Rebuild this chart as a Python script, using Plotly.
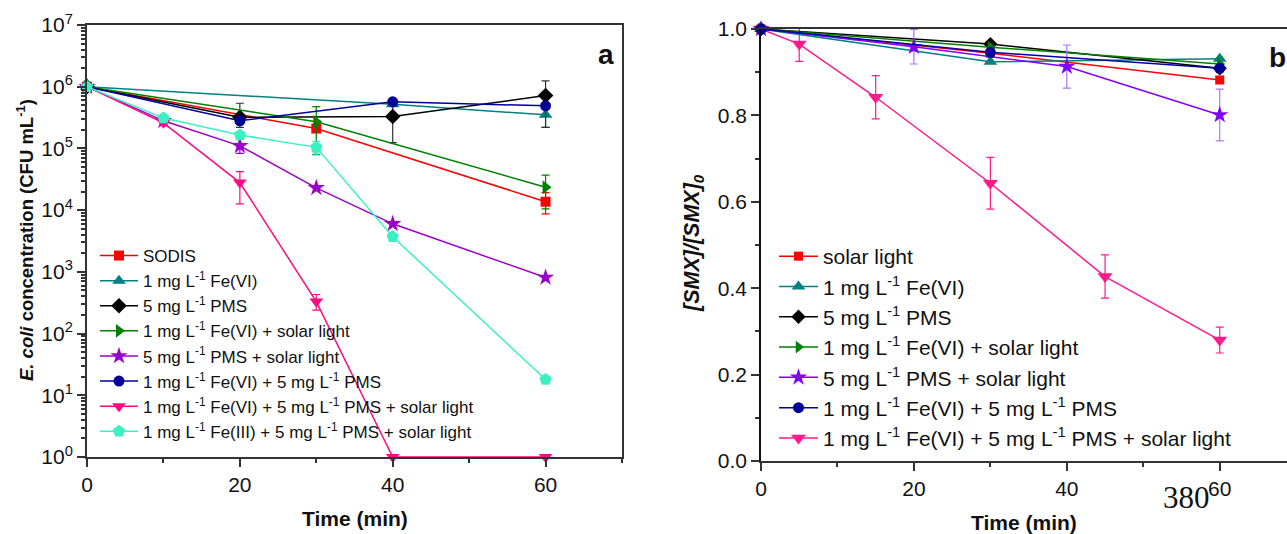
import plotly.graph_objects as go

W, H = 1287, 534

# ---------------- Panel a data (E. coli, CFU/mL) ----------------
a_names = ["SODIS",
           "1 mg L<sup>-1</sup> Fe(VI)",
           "5 mg L<sup>-1</sup> PMS",
           "1 mg L<sup>-1</sup> Fe(VI) + solar light",
           "5 mg L<sup>-1</sup> PMS + solar light",
           "1 mg L<sup>-1</sup> Fe(VI) + 5 mg L<sup>-1</sup> PMS",
           "1 mg L<sup>-1</sup> Fe(VI) + 5 mg L<sup>-1</sup> PMS + solar light",
           "1 mg L<sup>-1</sup> Fe(III) + 5 mg L<sup>-1</sup> PMS + solar light"]

a_sodis_t = [0, 30, 60]
a_sodis_y = [1.0e6, 2.1e5, 1.37e4]
a_sodis_ep = [None, None, 5.5e3]
a_sodis_em = [None, None, 5.0e3]

a_fe_t = [0, 40, 60]
a_fe_y = [1.0e6, 5.2e5, 3.5e5]
a_fe_ep = [None, None, 1.3e5]
a_fe_em = [None, None, 1.3e5]

a_pms_t = [0, 20, 40, 60]
a_pms_y = [1.0e6, 3.2e5, 3.3e5, 7.2e5]
a_pms_ep = [None, 2.2e5, 2.06e5, 5.2e5]
a_pms_em = [None, 1.0e5, 2.06e5, 5.0e5]

a_fesol_t = [0, 30, 60]
a_fesol_y = [1.0e6, 2.7e5, 2.35e4]
a_fesol_ep = [None, 2.05e5, 1.35e4]
a_fesol_em = [None, 1.9e5, 1.3e4]

a_pmssol_t = [0, 10, 20, 30, 40, 60]
a_pmssol_y = [1.0e6, 2.8e5, 1.1e5, 2.3e4, 6.0e3, 8.1e2]
a_pmssol_ep = [None, None, 3.0e4, None, None, None]
a_pmssol_em = [None, None, 2.7e4, None, None, None]

a_fepms_t = [0, 20, 40, 60]
a_fepms_y = [1.0e6, 2.8e5, 5.7e5, 4.9e5]

a_all_t = [0, 10, 20, 30, 40, 60]
a_all_y = [1.0e6, 2.6e5, 2.8e4, 3.3e2, 1.0, 1.0]
a_all_ep = [None, None, 1.4e4, 1.0e2, None, None]
a_all_em = [None, None, 1.54e4, 0.9e2, None, None]

a_fe3_t = [0, 10, 20, 30, 40, 60]
a_fe3_y = [1.0e6, 3.1e5, 1.65e5, 1.04e5, 3.7e3, 18]
a_fe3_ep = [None, None, None, 2.6e4, None, None]
a_fe3_em = [None, None, None, 2.6e4, None, None]

a_yticks = [1, 10, 100, 1e3, 1e4, 1e5, 1e6, 1e7]
a_yticktext = ["10<sup>0</sup>", "10<sup>1</sup>", "10<sup>2</sup>", "10<sup>3</sup>",
               "10<sup>4</sup>", "10<sup>5</sup>", "10<sup>6</sup>", "10<sup>7</sup>"]

# ---------------- Panel b data ([SMX]/[SMX]0) ----------------
b_names = ["solar light",
           "1 mg L<sup>-1</sup> Fe(VI)",
           "5 mg L<sup>-1</sup> PMS",
           "1 mg L<sup>-1</sup> Fe(VI) + solar light",
           "5 mg L<sup>-1</sup> PMS + solar light",
           "1 mg L<sup>-1</sup> Fe(VI) + 5 mg L<sup>-1</sup> PMS",
           "1 mg L<sup>-1</sup> Fe(VI) + 5 mg L<sup>-1</sup> PMS + solar light"]

b_sol_t = [0, 30, 60]
b_sol_y = [1.0, 0.944, 0.882]

b_fe_t = [0, 30, 60]
b_fe_y = [1.0, 0.924, 0.931]

b_pms_t = [0, 30, 60]
b_pms_y = [1.0, 0.965, 0.909]

b_fesol_t = [0, 30, 60]
b_fesol_y = [1.0, 0.958, 0.919]

b_pmssol_t = [0, 20, 40, 60]
b_pmssol_y = [1.0, 0.959, 0.913, 0.801]
b_pmssol_e = [None, 0.04, 0.05, 0.06]

b_fepms_t = [0, 30, 60]
b_fepms_y = [1.0, 0.946, 0.909]

b_all_t = [0, 5, 15, 30, 45, 60]
b_all_y = [1.0, 0.965, 0.842, 0.643, 0.427, 0.280]
b_all_e = [None, 0.04, 0.05, 0.06, 0.05, 0.03]

FONT = "Liberation Sans, Arial, sans-serif"

fig = go.Figure()


def add(t, y, name, color, symbol, size, xa, ya, legend, ep=None, em=None,
        ecolor=None, show=True):
    kw = {}
    if ep is not None:
        kw["error_y"] = dict(type="data", array=ep,
                             arrayminus=em if em is not None else ep,
                             symmetric=False, color=ecolor or color,
                             thickness=1.2, width=4)
    fig.add_trace(go.Scatter(
        x=t, y=y, name=name, mode="lines+markers",
        line=dict(color=color, width=1.5),
        marker=dict(color=color, symbol=symbol, size=size),
        xaxis=xa, yaxis=ya, legend=legend, cliponaxis=False,
        legendgroup=legend + name, showlegend=show, **kw))


# panel a traces
add(a_sodis_t, a_sodis_y, a_names[0], "#FF0000", "square", 10, "x", "y", "legend", a_sodis_ep, a_sodis_em)
add(a_fe_t, a_fe_y, a_names[1], "#008080", "triangle-up", 12, "x", "y", "legend", a_fe_ep, a_fe_em)
add(a_pms_t, a_pms_y, a_names[2], "#000000", "diamond", 12, "x", "y", "legend", a_pms_ep, a_pms_em, "#333333")
add(a_fesol_t, a_fesol_y, a_names[3], "#008000", "triangle-right", 12, "x", "y", "legend", a_fesol_ep, a_fesol_em)
add(a_pmssol_t, a_pmssol_y, a_names[4], "#9900CC", "star", 13, "x", "y", "legend", a_pmssol_ep, a_pmssol_em)
add(a_fepms_t, a_fepms_y, a_names[5], "#000099", "circle", 11, "x", "y", "legend")
add(a_all_t, a_all_y, a_names[6], "#FF0A80", "triangle-down", 12, "x", "y", "legend", a_all_ep, a_all_em)
add(a_fe3_t, a_fe3_y, a_names[7], "#3CF0C4", "pentagon", 13, "x", "y", "legend", a_fe3_ep, a_fe3_em)

# panel b traces
add(b_all_t, b_all_y, b_names[6], "#FF1A8C", "triangle-down", 13, "x2", "y2", "legend2", b_all_e, b_all_e, show=False)
add(b_sol_t, b_sol_y, b_names[0], "#FF0000", "square", 9, "x2", "y2", "legend2")
add(b_fe_t, b_fe_y, b_names[1], "#008080", "triangle-up", 12, "x2", "y2", "legend2")
add(b_pms_t, b_pms_y, b_names[2], "#000000", "diamond", 11, "x2", "y2", "legend2")
add(b_fesol_t, b_fesol_y, b_names[3], "#008000", "triangle-right", 11, "x2", "y2", "legend2")
add(b_pmssol_t, b_pmssol_y, b_names[4], "#8000FF", "star", 13, "x2", "y2", "legend2", b_pmssol_e, b_pmssol_e, "#B070FF")
add(b_fepms_t, b_fepms_y, b_names[5], "#000099", "circle", 11, "x2", "y2", "legend2")
# legend-only entry so the pink series is listed last in legend 2
fig.add_trace(go.Scatter(x=[None], y=[None], name=b_names[6], mode="lines+markers",
                         line=dict(color="#FF1A8C", width=1.5),
                         marker=dict(color="#FF1A8C", symbol="triangle-down", size=13),
                         xaxis="x2", yaxis="y2", legend="legend2",
                         legendgroup="legend2pink"))

# domains in pixels -> paper
ax_l, ax_r, ay_t, ay_b = 87, 622, 25, 457
bx_l, bx_r, by_t, by_b = 761, 1287, 29, 461

axis_common = dict(showline=True, linewidth=2, linecolor="#333333", ticks="outside",
                   tickcolor="#333333", tickwidth=1.5, ticklen=8, showgrid=False,
                   zeroline=False, automargin=False,
                   tickfont=dict(family=FONT, size=21, color="#111111"))

fig.update_layout(
    width=W, height=H, margin=dict(l=0, r=0, t=0, b=0, autoexpand=False),
    paper_bgcolor="white", plot_bgcolor="white",
    font=dict(family=FONT, color="#111111"),
    xaxis=dict(domain=[ax_l / W, ax_r / W], range=[0, 70], tickvals=[0, 20, 40, 60],
               mirror=True, anchor="y",
               minor=dict(dtick=10, tick0=0, ticks="outside", ticklen=4, tickcolor="#333333",
                          showgrid=False),
               **axis_common),
    yaxis=dict(domain=[1 - ay_b / H, 1 - ay_t / H], type="log", range=[0, 7],
               tickvals=a_yticks, ticktext=a_yticktext, mirror=True, anchor="x",
               minor=dict(dtick="D1", ticks="outside", ticklen=4, tickcolor="#333333",
                          showgrid=False),
               **axis_common),
    xaxis2=dict(domain=[bx_l / W, bx_r / W], range=[0, 68.8], tickvals=[0, 20, 40, 60],
                mirror=True, anchor="y2",
                minor=dict(dtick=10, tick0=0, ticks="outside", ticklen=4, tickcolor="#333333",
                           showgrid=False),
                **axis_common),
    yaxis2=dict(domain=[1 - by_b / H, 1 - by_t / H], range=[0, 1.0], dtick=0.2,
                tickformat=".1f", anchor="x2",
                minor=dict(dtick=0.1, ticks="outside", ticklen=4, tickcolor="#333333",
                           showgrid=False),
                **{**axis_common, "linecolor": "#111111", "linewidth": 1.5}),
    legend=dict(x=95 / W, y=1 - 238 / H, xanchor="left", yanchor="top",
                bgcolor="rgba(0,0,0,0)", font=dict(family=FONT, size=17, color="#111111"),
                tracegroupgap=0, itemsizing="trace", itemwidth=38),
    legend2=dict(x=774 / W, y=1 - 236 / H, xanchor="left", yanchor="top",
                 bgcolor="rgba(0,0,0,0)", font=dict(family=FONT, size=21, color="#111111"),
                 tracegroupgap=0, itemsizing="trace", itemwidth=39),
)

ann = [
    dict(text="<b>Time (min)</b>", x=(ax_l + ax_r) / 2 / W, y=1 - 518 / H,
         font=dict(size=21)),
    dict(text="<b>Time (min)</b>", x=(bx_l + bx_r) / 2 / W, y=1 - 522 / H,
         font=dict(size=21)),
    dict(text="<b><i>E. coli</i> concentration (CFU mL<sup>-1</sup>)</b>", x=25 / W,
         y=1 - 240 / H, textangle=-90, font=dict(size=18.5)),
    dict(text="<b><i>[SMX]/[SMX]<sub>0</sub></i></b>", x=693 / W, y=1 - 243 / H,
         textangle=-90, font=dict(size=21.5)),
    dict(text="<b>a</b>", x=606 / W, y=1 - 54 / H, font=dict(size=28)),
    dict(text="<b>b</b>", x=1277 / W, y=1 - 57 / H, font=dict(size=28)),
    dict(text="380", x=1186 / W, y=1 - 497 / H,
         font=dict(size=31, family="Liberation Serif, Times New Roman, serif")),
]
for a in ann:
    a.update(xref="paper", yref="paper", showarrow=False, xanchor="center", yanchor="middle")
    a["font"] = {"family": FONT, "color": "#111111", **a["font"]}
fig.update_layout(annotations=ann)

fig.write_html("out.html")
